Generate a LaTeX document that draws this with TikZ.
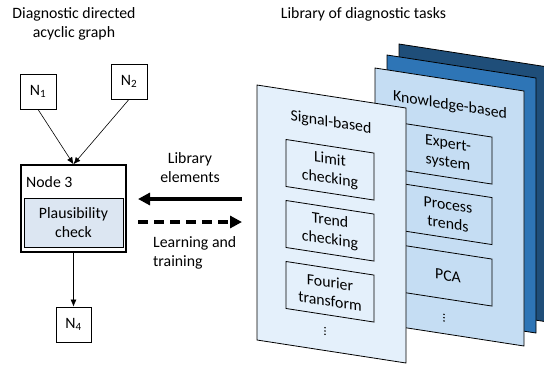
\documentclass[tikz,border=0pt]{standalone}
\usepackage{fontspec}
\setmainfont{Carlito}
\usetikzlibrary{arrows.meta}
\definecolor{backc}{HTML}{1F4E79}
\definecolor{midc}{HTML}{2E75B6}
\definecolor{knowc}{HTML}{C5DDF3}
\definecolor{sigc}{HTML}{E4F0FB}
\definecolor{plc}{HTML}{DCE6F2}
\begin{document}
\begin{tikzpicture}[x=1pt,y=-1pt,font=\fontsize{15.8}{19}\selectfont,
  smallbox/.style={draw,line width=0.8pt,minimum width=36pt,minimum height=35pt,inner sep=0pt},
  conn/.style={-{Latex[length=7pt,width=6pt]},line width=0.6pt},
  bigarrow/.style={-{Triangle[length=12pt,width=12pt]},line width=4pt},
  panel/.style={draw=black,line width=0.8pt},
  innerbox/.style={draw,line width=0.8pt,minimum width=88pt,minimum height=47pt,align=center,inner sep=0pt,transform shape},
  ptitle/.style={transform shape},
  dotmark/.style={fill=black,draw=none}]
\useasboundingbox (0,0) rectangle (544,365);
\clip (0,0) rectangle (544,365);

% titles
\node[align=center] (t1) at (74,23.5) {Diagnostic directed\\acyclic graph};
\node (t2) at (363.5,14) {Library of diagnostic tasks};

% graph
\node[smallbox] (n1) at (38,91.5) {N\textsubscript{1}};
\node[smallbox] (n2) at (129,81.5) {N\textsubscript{2}};
\node[draw,line width=1.5pt,minimum width=105pt,minimum height=87pt,inner sep=0pt] (n3) at (73.5,208.5) {};
\node[anchor=west,inner sep=0pt] (n3l) at (26,182) {Node 3};
\node[draw,line width=0.8pt,fill=plc,minimum width=99pt,minimum height=49pt,align=center,inner sep=0pt] (pc) at (73.5,222.5) {Plausibility\\check};
\node[smallbox,minimum width=35pt] (n4) at (73.5,324.5) {N\textsubscript{4}};
\draw[conn] (n1.south) -- (n3.north);
\draw[conn] (n2.south) -- (n3.north);
\draw[conn] (n3.south) -- (n4.north);

% middle arrows
\node[align=center] (libel) at (190,167.5) {Library\\elements};
\coordinate (a1s) at (242,199);
\coordinate (a1e) at (138,199);
\draw[bigarrow] (a1s) -- (a1e);
\coordinate (a2s) at (138,222);
\coordinate (a2e) at (242,222);
\draw[bigarrow,dash pattern=on 10pt off 6pt] (a2s) -- (a2e);
\node[align=left,anchor=west,inner sep=0pt] (learn) at (153,252.5) {Learning and\\training};

% back panels
\begin{scope}[shift={(399,44)},yslant=-0.1544]
  \draw[panel,fill=backc] (0,0) rectangle (149,255);
\end{scope}
\begin{scope}[shift={(387,55)},yslant=-0.1544]
  \draw[panel,fill=midc] (0,0) rectangle (149,255);
\end{scope}
% knowledge panel
\begin{scope}[shift={(375,68)},yslant=-0.1544]
  \draw[panel,fill=knowc] (0,0) rectangle (149,255);
  \node[ptitle] (kt) at (75,26) {Knowledge-based};
  \node[innerbox,fill=knowc] (k1) at (73,74.5) {Expert-\\system};
  \node[innerbox,fill=knowc] (k2) at (73,135) {Process\\trends};
  \node[innerbox,fill=knowc] (k3) at (73,196.5) {PCA};
  \foreach \d in {-3.3,0,3.3} \fill[dotmark] (69,239+\d) circle (0.85);
\end{scope}
% signal panel
\begin{scope}[shift={(257,85)},yslant=-0.1544]
  \draw[panel,fill=sigc] (0,0) rectangle (149,255);
  \node[ptitle] (st) at (74,26.5) {Signal-based};
  \node[innerbox,fill=sigc] (s1) at (73,73.5) {Limit\\checking};
  \node[innerbox,fill=sigc] (s2) at (73,134.5) {Trend\\checking};
  \node[innerbox,fill=sigc] (s3) at (73,195.5) {Fourier\\transform};
  \foreach \d in {-3.3,0,3.3} \fill[dotmark] (68,235.5+\d) circle (0.85);
\end{scope}
\end{tikzpicture}
\end{document}
